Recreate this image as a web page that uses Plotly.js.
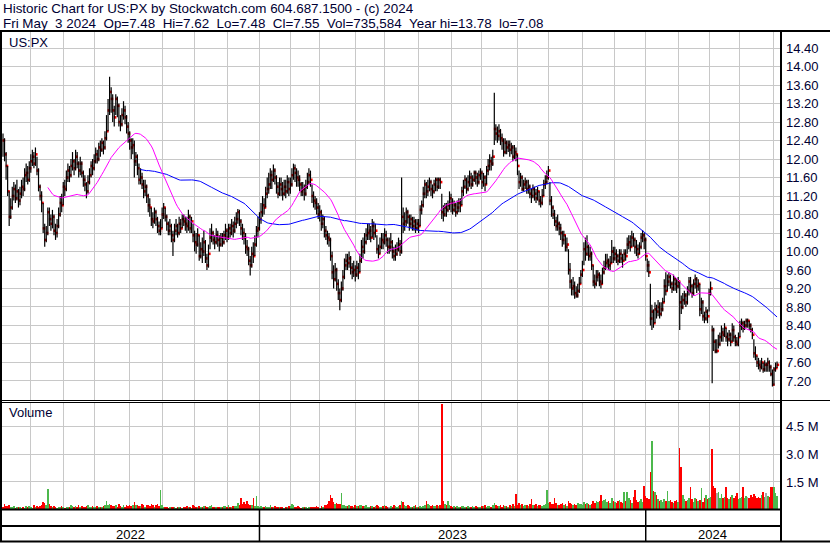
<!DOCTYPE html>
<html><head><meta charset="utf-8">
<script src="https://cdn.plot.ly/plotly-3.0.1.min.js"></script>
<style>html,body{margin:0;padding:0;background:#fff}#chart{width:830px;height:543px}</style>
</head><body><div id="chart"></div>
<script>
// ---- data ----
const yearLabels = ['2022','2023','2024'];
const yearBars = [166, 250, 86];               // trading days shown per year
const monthBars = [18,21,20,23,21,21,21,21, 20,19,23,19,22,21,20,23,20,22,21,20, 21,20,20,22,3];
const priceTicks = [7.2,7.6,8.0,8.4,8.8,9.2,9.6,10.0,10.4,10.8,11.2,11.6,12.0,12.4,12.8,13.2,13.6,14.0,14.4];
const volTicks = [1.5, 3.0, 4.5];
const volTickText = ['1.5 M', '3.0 M', '4.5 M'];

const cl = [
12.40,12.10,11.85,11.30,10.75,10.95,11.20,11.35,11.15,11.30,
11.10,11.25,11.40,11.35,11.65,11.70,11.55,11.80,11.95,12.05,
11.90,12.10,11.75,11.40,11.20,11.05,10.50,10.25,10.40,10.85,
10.70,10.60,10.75,10.45,10.40,10.55,10.80,11.05,11.00,11.40,
11.35,11.60,11.75,11.65,11.85,11.95,11.80,12.05,11.90,11.75,
11.90,11.70,11.55,11.45,11.30,11.50,11.65,11.85,11.80,11.95,
12.10,12.00,12.25,12.20,12.35,12.25,12.45,12.60,13.05,13.45,
13.30,13.05,12.90,13.30,13.15,12.80,12.75,12.95,13.05,12.90,
12.70,12.55,12.40,12.25,12.30,11.95,12.05,11.80,11.55,11.60,
11.45,11.30,11.40,11.20,11.00,10.95,10.70,10.65,10.85,10.70,
10.55,10.45,10.50,10.80,10.95,10.75,10.60,10.45,10.55,10.35,
10.25,10.45,10.55,10.40,10.60,10.50,10.70,10.65,10.60,10.55,
10.75,10.50,10.65,10.35,10.20,10.15,10.35,9.90,10.05,10.00,
10.20,9.85,9.70,9.95,10.30,10.40,10.25,10.20,10.35,10.25,
10.15,10.30,10.20,10.35,10.45,10.30,10.50,10.40,10.55,10.45,
10.60,10.70,10.85,10.65,10.50,10.40,10.30,10.10,10.05,9.80,
9.70,9.95,9.90,10.15,10.45,10.50,10.70,10.85,11.00,10.95,
11.25,11.35,11.45,11.65,11.55,11.75,11.60,11.40,11.25,11.45,
11.35,11.25,11.40,11.30,11.50,11.35,11.45,11.65,11.80,11.70,
11.60,11.55,11.45,11.30,11.35,11.25,11.40,11.50,11.65,11.55,
11.20,11.10,11.05,10.95,10.80,10.85,10.60,10.70,10.45,10.35,
10.30,10.25,9.90,9.55,9.40,9.60,9.30,9.10,8.95,9.20,
9.45,9.70,9.80,9.75,9.85,9.65,9.55,9.60,9.50,9.65,
9.55,9.80,10.10,10.00,10.20,10.35,10.40,10.45,10.30,10.55,
10.40,10.45,10.05,9.95,10.10,10.25,10.20,10.35,10.25,10.10,
10.10,10.20,10.00,9.90,9.95,10.05,10.15,10.00,10.75,10.60,
10.65,10.85,10.75,10.60,10.70,10.55,10.65,10.50,10.60,10.55,
10.90,11.00,11.25,11.45,11.30,11.40,11.50,11.35,11.30,11.45,
11.55,11.40,11.55,11.50,10.85,10.80,10.95,10.90,11.00,11.15,
11.05,10.90,11.00,10.85,10.95,11.05,11.00,11.30,11.40,11.55,
11.35,11.50,11.60,11.45,11.55,11.70,11.60,11.50,11.65,11.70,
11.50,11.60,11.45,11.75,11.85,11.95,11.90,12.05,12.65,12.55,
12.50,12.60,12.45,12.40,12.15,12.35,12.25,12.30,12.20,12.25,
12.05,12.15,12.10,11.85,11.50,11.60,11.35,11.45,11.50,11.35,
11.40,11.25,11.20,11.35,11.25,11.15,11.30,11.10,11.05,11.20,
11.45,11.50,11.60,11.75,11.10,10.95,10.80,10.65,10.55,10.60,
10.50,10.40,10.25,10.35,10.10,10.15,9.60,9.35,9.20,9.25,
9.10,9.05,9.15,9.30,9.50,9.60,10.05,9.95,10.10,9.90,
9.95,9.70,9.35,9.30,9.45,9.50,9.35,9.30,9.55,9.65,
9.75,9.80,9.70,9.75,10.00,9.85,9.95,9.90,9.80,9.95,
9.85,9.80,9.95,9.90,10.15,10.20,10.10,10.30,10.25,10.10,
10.05,9.95,10.10,10.30,10.35,10.25,9.90,9.70,9.55,8.55,
8.70,8.45,8.75,8.70,8.80,8.65,8.75,8.90,9.25,9.15,
9.35,9.45,9.30,9.20,9.40,9.30,9.25,9.35,8.90,8.80,
8.95,9.05,8.90,9.15,9.35,9.25,9.10,9.30,9.40,9.25,
9.30,8.75,8.90,8.60,8.55,8.70,8.60,9.10,9.20,8.30,
8.05,7.85,7.85,8.00,8.15,8.25,8.20,8.35,8.15,8.10,
8.20,8.05,8.30,8.15,8.05,8.00,8.15,8.40,8.45,8.35,
8.40,8.50,8.50,8.40,8.30,8.20,7.80,7.75,7.60,7.55,
7.50,7.60,7.45,7.55,7.55,7.60,7.50,7.35,7.12,7.45,
7.48,7.55];

const hi = [
12.55,12.45,12.15,11.85,11.30,11.15,11.40,11.50,11.45,11.55,
11.35,11.40,11.55,11.60,11.80,11.90,11.85,11.95,12.10,12.20,
12.15,12.25,12.05,11.80,11.45,11.30,11.05,10.60,10.55,10.95,
10.95,10.80,10.90,10.80,10.60,10.70,10.95,11.20,11.25,11.50,
11.55,11.75,11.90,11.85,12.00,12.15,12.00,12.20,12.15,11.95,
12.05,11.95,11.75,11.65,11.50,11.65,11.80,11.95,12.00,12.10,
12.25,12.20,12.35,12.40,12.45,12.40,12.60,12.95,13.30,13.78,
13.55,13.40,13.15,13.40,13.35,13.20,12.95,13.10,13.25,13.15,
12.95,12.80,12.60,12.45,12.45,12.40,12.15,12.10,11.90,11.80,
11.70,11.55,11.55,11.45,11.25,11.15,10.95,10.85,10.95,10.90,
10.75,10.65,10.70,10.95,11.05,10.95,10.80,10.65,10.70,10.60,
10.45,10.60,10.70,10.60,10.75,10.70,10.80,10.80,10.75,10.75,
10.90,10.80,10.75,10.60,10.45,10.40,10.50,10.35,10.20,10.30,
10.45,10.25,9.95,10.15,10.50,10.60,10.45,10.35,10.50,10.45,
10.35,10.40,10.40,10.45,10.60,10.50,10.60,10.60,10.70,10.65,
10.75,10.85,10.92,10.90,10.70,10.60,10.50,10.40,10.25,10.10,
9.90,10.10,10.20,10.35,10.55,10.75,10.85,11.05,11.20,11.15,
11.40,11.60,11.70,11.80,11.75,11.88,11.80,11.65,11.50,11.60,
11.60,11.50,11.55,11.55,11.65,11.60,11.60,11.80,11.90,11.88,
11.80,11.75,11.65,11.50,11.50,11.45,11.55,11.70,11.80,11.75,
11.45,11.30,11.20,11.15,11.05,11.00,10.90,10.80,10.75,10.55,
10.45,10.40,10.30,10.00,9.70,9.75,9.65,9.40,9.20,9.35,
9.60,9.85,9.95,9.95,10.00,9.90,9.75,9.80,9.70,9.80,
9.75,9.95,10.25,10.30,10.40,10.50,10.60,10.60,10.55,10.70,
10.65,10.60,10.35,10.15,10.30,10.40,10.40,10.50,10.45,10.30,
10.30,10.40,10.25,10.10,10.15,10.20,10.30,10.25,11.60,10.95,
10.85,10.95,10.90,10.80,10.80,10.75,10.75,10.70,10.70,10.70,
11.00,11.10,11.40,11.55,11.50,11.55,11.60,11.55,11.45,11.55,
11.60,11.60,11.60,11.60,11.25,11.00,11.05,11.05,11.10,11.30,
11.25,11.15,11.10,11.05,11.10,11.15,11.15,11.40,11.55,11.65,
11.60,11.65,11.75,11.70,11.65,11.75,11.75,11.70,11.75,11.80,
11.75,11.70,11.65,11.85,12.00,12.10,12.05,12.20,13.43,12.75,
12.70,12.75,12.65,12.55,12.45,12.45,12.40,12.40,12.40,12.35,
12.30,12.30,12.25,12.10,11.75,11.70,11.65,11.55,11.60,11.55,
11.55,11.45,11.35,11.45,11.40,11.35,11.40,11.30,11.20,11.35,
11.55,11.65,11.75,11.85,11.50,11.20,11.00,10.90,10.75,10.80,
10.65,10.60,10.45,10.45,10.35,10.30,10.05,9.75,9.40,9.45,
9.35,9.25,9.30,9.45,9.60,9.80,10.20,10.30,10.35,10.15,
10.10,10.00,9.70,9.50,9.60,9.60,9.55,9.50,9.65,9.80,
9.95,9.95,9.85,9.90,10.25,10.10,10.10,10.05,9.95,10.05,
10.05,9.95,10.05,10.05,10.30,10.35,10.35,10.45,10.40,10.30,
10.25,10.15,10.20,10.40,10.46,10.40,10.30,9.85,9.80,9.30,
8.85,8.75,8.90,8.85,8.95,8.90,8.90,9.00,9.40,9.55,
9.50,9.55,9.50,9.35,9.50,9.45,9.40,9.45,9.35,9.05,
9.10,9.15,9.10,9.25,9.45,9.45,9.30,9.40,9.50,9.45,
9.40,9.30,9.00,8.95,8.70,8.80,8.75,9.20,9.35,8.40,
8.35,8.10,8.10,8.20,8.25,8.40,8.35,8.45,8.35,8.25,
8.30,8.25,8.45,8.40,8.20,8.15,8.25,8.50,8.55,8.50,
8.50,8.55,8.55,8.50,8.45,8.35,8.10,7.95,7.75,7.70,
7.65,7.70,7.60,7.65,7.60,7.70,7.65,7.55,7.45,7.50,
7.60,7.62];

const lo = [
12.05,11.95,11.55,11.20,10.55,10.70,10.90,11.10,11.05,11.10,
10.95,11.00,11.15,11.20,11.30,11.50,11.45,11.50,11.70,11.85,
11.80,11.85,11.65,11.30,11.10,10.85,10.40,10.10,10.20,10.35,
10.55,10.45,10.50,10.35,10.25,10.30,10.50,10.75,10.85,11.00,
11.20,11.30,11.50,11.50,11.60,11.75,11.65,11.75,11.80,11.60,
11.65,11.60,11.40,11.30,11.15,11.25,11.45,11.60,11.65,11.75,
11.90,11.90,11.95,12.05,12.15,12.10,12.20,12.40,12.60,12.95,
13.00,12.80,12.70,12.95,12.90,12.70,12.60,12.70,12.85,12.75,
12.55,12.35,12.20,12.00,12.10,11.60,11.85,11.65,11.45,11.45,
11.35,11.15,11.20,11.05,10.85,10.75,10.55,10.50,10.60,10.55,
10.40,10.35,10.35,10.50,10.70,10.65,10.45,10.35,10.35,10.20,
9.90,10.20,10.35,10.30,10.35,10.40,10.50,10.55,10.45,10.40,
10.45,10.40,10.40,10.20,10.00,9.95,10.10,9.80,9.85,9.75,
9.90,9.75,9.60,9.65,10.05,10.20,10.15,10.05,10.15,10.10,
10.00,10.10,10.10,10.15,10.25,10.20,10.25,10.30,10.35,10.30,
10.40,10.50,10.60,10.55,10.35,10.25,10.15,9.95,9.90,9.70,
9.48,9.65,9.75,9.90,10.10,10.30,10.45,10.60,10.75,10.80,
10.95,11.15,11.25,11.35,11.35,11.50,11.45,11.25,11.15,11.20,
11.20,11.10,11.20,11.15,11.25,11.20,11.25,11.40,11.55,11.50,
11.40,11.40,11.30,11.20,11.20,11.10,11.20,11.35,11.45,11.40,
11.05,10.95,10.90,10.80,10.70,10.65,10.45,10.50,10.30,10.25,
10.15,10.10,9.80,9.40,9.20,9.35,9.15,8.95,8.73,8.90,
9.15,9.40,9.60,9.60,9.65,9.50,9.40,9.45,9.35,9.45,
9.40,9.55,9.75,9.85,9.95,10.15,10.25,10.25,10.20,10.30,
10.25,10.30,9.95,9.85,9.95,10.05,10.05,10.15,10.10,9.95,
9.95,10.00,9.85,9.80,9.80,9.90,10.00,9.90,9.95,10.40,
10.45,10.55,10.60,10.45,10.50,10.45,10.45,10.40,10.45,10.40,
10.55,10.80,10.95,11.15,11.15,11.20,11.30,11.20,11.15,11.25,
11.30,11.30,11.35,11.35,10.70,10.65,10.75,10.75,10.85,10.90,
10.85,10.80,10.85,10.75,10.80,10.85,10.85,11.00,11.20,11.35,
11.25,11.30,11.40,11.35,11.40,11.50,11.45,11.40,11.45,11.55,
11.35,11.40,11.30,11.45,11.65,11.75,11.75,11.85,12.30,12.40,
12.35,12.40,12.30,12.20,12.05,12.10,12.10,12.15,12.05,12.10,
11.95,12.00,11.95,11.65,11.35,11.40,11.30,11.30,11.35,11.25,
11.25,11.15,11.05,11.15,11.10,11.05,11.10,11.00,10.95,11.00,
11.20,11.35,11.45,11.55,11.00,10.75,10.70,10.55,10.45,10.45,
10.35,10.25,10.10,10.15,10.00,10.00,9.50,9.20,9.05,9.05,
8.98,9.00,9.00,9.10,9.30,9.45,9.70,9.80,9.90,9.80,
9.80,9.60,9.25,9.20,9.25,9.35,9.25,9.20,9.30,9.50,
9.60,9.65,9.60,9.60,9.75,9.75,9.80,9.75,9.70,9.75,
9.75,9.65,9.80,9.80,9.95,10.05,10.00,10.10,10.10,9.95,
9.90,9.85,9.95,10.05,10.20,10.05,9.80,9.55,9.45,8.40,
8.30,8.35,8.45,8.55,8.60,8.55,8.60,8.70,8.90,9.05,
9.15,9.25,9.20,9.10,9.15,9.15,9.10,9.20,8.30,8.65,
8.75,8.85,8.80,8.85,9.05,9.10,9.00,9.05,9.20,9.10,
9.15,8.60,8.65,8.50,8.45,8.50,8.45,8.70,9.05,7.15,
7.85,7.80,7.80,7.90,7.95,8.05,8.05,8.15,8.05,7.95,
8.05,7.95,8.05,8.05,7.95,7.95,7.95,8.15,8.30,8.25,
8.30,8.35,8.35,8.30,8.25,8.10,7.70,7.65,7.50,7.45,
7.40,7.45,7.38,7.40,7.40,7.40,7.40,7.30,7.08,7.10,
7.40,7.48];

// volume in millions of shares
const vol = [
0.15,0.30,0.20,0.18,0.22,0.15,0.12,0.18,0.10,0.14,
0.16,0.12,0.10,0.14,0.08,0.20,0.12,0.18,0.15,0.10,
0.22,0.13,0.17,0.15,0.20,0.25,0.40,0.34,0.25,1.09,
0.30,0.18,0.14,0.20,0.12,0.10,0.15,0.12,0.18,0.14,
0.10,0.16,0.13,0.12,0.22,0.18,0.15,0.20,0.12,0.25,
0.14,0.18,0.16,0.12,0.20,0.25,0.15,0.12,0.18,0.14,
0.16,0.20,0.13,0.15,0.12,0.18,0.22,0.49,0.25,0.30,
0.22,0.20,0.18,0.24,0.15,0.28,0.20,0.16,0.25,0.15,
0.22,0.18,0.26,0.20,0.24,0.40,0.22,0.25,0.20,0.18,
0.30,0.22,0.16,0.24,0.25,0.20,0.28,0.22,0.15,0.25,
0.30,0.18,1.04,0.22,0.15,0.12,0.14,0.10,0.16,0.12,
0.15,0.12,0.10,0.14,0.12,0.16,0.10,0.13,0.15,0.18,
0.14,0.16,0.10,0.22,0.18,0.14,0.12,0.20,0.16,0.14,
0.18,0.20,0.15,0.12,0.18,0.22,0.16,0.14,0.15,0.12,
0.16,0.12,0.14,0.18,0.20,0.15,0.22,0.16,0.14,0.18,
0.20,0.18,0.35,0.24,0.62,0.30,0.40,0.28,0.45,0.30,
0.25,0.22,0.62,0.20,0.71,0.18,0.15,0.20,0.16,0.14,
0.18,0.15,0.12,0.22,0.14,0.16,0.20,0.15,0.12,0.16,
0.14,0.12,0.10,0.15,0.13,0.18,0.20,0.30,0.22,0.16,
0.14,0.18,0.12,0.10,0.14,0.16,0.12,0.10,0.15,0.12,
0.14,0.16,0.12,0.18,0.15,0.10,0.20,0.14,0.22,0.25,
0.30,0.45,0.77,0.60,0.40,0.28,0.35,0.30,0.32,0.89,
0.25,0.22,0.18,0.20,0.26,0.18,0.20,0.15,0.22,0.18,
0.20,0.25,0.22,0.18,0.20,0.24,0.16,0.14,0.20,0.18,
0.15,0.20,0.22,0.18,0.16,0.14,0.18,0.22,0.20,0.16,
0.14,0.20,0.16,0.22,0.18,0.14,0.20,0.25,0.49,0.40,
0.22,0.18,0.25,0.20,0.15,0.12,0.18,0.22,0.15,0.12,
0.18,0.16,0.20,0.25,0.44,0.30,0.22,0.20,0.25,0.18,
0.20,0.24,0.18,0.25,5.74,0.49,0.30,0.25,0.44,0.22,
0.20,0.16,0.18,0.14,0.20,0.15,0.12,0.18,0.20,0.16,
0.14,0.18,0.12,0.16,0.20,0.15,0.18,0.14,0.12,0.16,
0.20,0.18,0.22,0.16,0.20,0.18,0.14,0.22,0.35,0.25,
0.20,0.18,0.22,0.16,0.25,0.20,0.18,0.15,0.22,0.20,
0.28,0.18,0.86,0.25,0.35,0.22,0.30,0.18,0.22,0.25,
0.20,0.28,0.55,0.22,0.25,0.30,0.18,0.25,0.22,0.20,
0.25,0.30,1.04,0.35,0.40,0.30,0.28,0.64,0.35,0.22,
0.25,0.30,0.35,0.22,0.28,0.20,0.45,0.35,0.30,0.25,
0.30,0.25,0.35,0.28,0.32,0.26,0.40,0.30,0.35,0.28,
0.25,0.30,0.45,0.35,0.49,0.40,0.45,0.77,0.45,0.50,
0.55,0.40,0.45,0.35,0.60,0.45,0.40,0.35,0.45,0.50,
0.40,0.35,0.98,0.45,0.95,0.60,0.50,0.35,0.67,1.04,
0.50,0.40,0.45,0.58,0.40,1.26,0.75,0.60,0.55,2.04,
3.72,1.00,0.98,0.80,0.55,0.45,0.50,0.40,0.55,0.48,
1.00,0.45,0.50,0.40,0.35,0.45,0.50,0.40,3.35,2.30,
0.80,0.55,0.45,0.50,0.60,1.20,0.55,0.40,0.60,0.55,
0.45,0.50,1.17,0.40,0.60,0.79,0.55,0.60,0.70,3.28,
1.30,1.17,0.90,0.95,0.60,0.85,0.60,0.70,1.20,0.65,
0.55,0.70,0.80,0.60,0.75,0.90,0.55,0.65,0.70,1.20,
0.60,0.75,0.70,0.65,0.80,0.70,0.85,0.75,0.60,0.70,
0.65,0.80,0.95,0.70,0.90,0.75,0.70,1.20,1.25,1.25,
0.90,0.74];

const maShort = 30, maLong = 90;

// ---- geometry helpers ----
const W = 830, H = 543;
const PX = v => v / W, PY = v => 1 - v / H;
const barPx = 1.545, firstBarPx = 3, plotL = 2, plotR = 780;
const xRange = [(plotL - firstBarPx) / barPx, (plotR - firstBarPx) / barPx];

const N = cl.length;
const idx = cl.map((_, i) => i);

function cum(arr) { const out = [0]; arr.forEach(v => out.push(out[out.length - 1] + v)); return out; }
const monthStarts = cum(monthBars).slice(1, -1);
const yearStarts = cum(yearBars);

function sma(a, n) {
  return a.map((_, i) => {
    if (i < n - 1) return null;
    let s = 0; for (let k = i - n + 1; k <= i; k++) s += a[k];
    return s / n;
  });
}

// hi-lo segments
const segX = [], segY = [];
idx.forEach(i => { segX.push(i, i, null); segY.push(lo[i], hi[i], null); });

const volColors = vol.map((_, i) => {
  if (i === 0) return '#ff0000';
  if (cl[i] > cl[i - 1]) return '#4cb84c';
  if (cl[i] < cl[i - 1]) return '#ff0000';
  return '#a8a8a8';
});

const FONT = 'Liberation Sans, Arial, sans-serif';
const TXT = '#000033';

const traces = [
  { type: 'scatter', mode: 'markers', x: idx.map(i => i + 0.55), y: cl, xaxis: 'x', yaxis: 'y',
    marker: { symbol: 'square', size: 2.6, color: '#ff0000', line: { width: 0 } }, hoverinfo: 'skip' },
  { type: 'scatter', mode: 'lines', x: segX, y: segY, xaxis: 'x', yaxis: 'y',
    line: { color: '#000000', width: 1.2 }, hoverinfo: 'skip' },
  { type: 'scatter', mode: 'lines', x: idx, y: sma(cl, maLong), xaxis: 'x', yaxis: 'y',
    line: { color: '#0000ff', width: 1 }, hoverinfo: 'skip' },
  { type: 'scatter', mode: 'lines', x: idx, y: sma(cl, maShort), xaxis: 'x', yaxis: 'y',
    line: { color: '#ff00ff', width: 1 }, hoverinfo: 'skip' },
  { type: 'bar', x: idx, y: vol, xaxis: 'x2', yaxis: 'y2', width: 1,
    marker: { color: volColors, line: { width: 0 } }, hoverinfo: 'skip' }
];

const gridC = '#c8c8c8';
const xCommon = {
  range: xRange, domain: [PX(plotL), PX(plotR)], tickmode: 'array', tickvals: monthStarts,
  showticklabels: false, ticks: '', showgrid: true, gridcolor: gridC, gridwidth: 1,
  zeroline: false, showline: false, fixedrange: true
};

const shapes = [];
function hline(y, x0, x1, w) { shapes.push({ type: 'line', xref: 'paper', yref: 'paper', x0: PX(x0), x1: PX(x1), y0: PY(y), y1: PY(y), line: { color: '#000', width: w }, layer: 'above' }); }
function vline(x, y0, y1, w) { shapes.push({ type: 'line', xref: 'paper', yref: 'paper', x0: PX(x), x1: PX(x), y0: PY(y0), y1: PY(y1), line: { color: '#000', width: w }, layer: 'above' }); }
hline(31, 0, 830, 2);
vline(1, 31, 542, 2);
vline(781, 31, 542, 2);
hline(400.5, 0, 830, 1);
hline(402.5, 0, 781, 1);
hline(509.5, 0, 781, 2);
hline(526, 0, 781, 2);
hline(541.5, 0, 830, 2);
yearStarts.slice(1, -1).forEach(b => shapes.push({ type: 'line', xref: 'x', yref: 'paper', x0: b, x1: b,
  y0: PY(509.5), y1: PY(541.5), line: { color: '#000', width: 1.5 }, layer: 'above' }));

const annotations = [
  { text: 'Historic Chart for US:PX by Stockwatch.com 604.687.1500 - (c) 2024', x: PX(1), y: PY(8.5) },
  { text: 'Fri May\u00a0\u00a03 2024\u00a0\u00a0Op=7.48\u00a0\u00a0Hi=7.62\u00a0\u00a0Lo=7.48\u00a0\u00a0Cl=7.55\u00a0\u00a0Vol=735,584\u00a0\u00a0Year hi=13.78\u00a0\u00a0lo=7.08', x: PX(1), y: PY(23) },
  { text: 'US:PX', x: PX(7), y: PY(42) },
  { text: 'Volume', x: PX(7), y: PY(413) }
].map((a, k) => Object.assign({ xref: 'paper', yref: 'paper', xanchor: 'left', yanchor: 'middle', showarrow: false,
  font: { family: FONT, size: k < 2 ? 13.4 : 13, color: TXT } }, a));

yearLabels.forEach((t, k) => {
  const s = k === 0 ? xRange[0] : yearStarts[k];
  const e = k === yearLabels.length - 1 ? xRange[1] : yearStarts[k + 1];
  annotations.push({ text: t, xref: 'x', yref: 'paper', x: (s + e) / 2, y: PY(534), xanchor: 'center', yanchor: 'middle',
    showarrow: false, font: { family: FONT, size: 13, color: '#000' } });
});

const layout = {
  width: W, height: H, margin: { l: 0, r: 0, t: 0, b: 0 }, paper_bgcolor: '#fff', plot_bgcolor: '#fff',
  showlegend: false, hovermode: false, bargap: 0,
  font: { family: FONT, size: 13, color: TXT },
  xaxis: Object.assign({}, xCommon, { anchor: 'y' }),
  xaxis2: Object.assign({}, xCommon, { anchor: 'y2', matches: 'x' }),
  yaxis: { domain: [PY(400), PY(32)], range: [6.789, 14.746], side: 'right', anchor: 'x',
    tickmode: 'array', tickvals: priceTicks, tickformat: '.2f', ticks: '', ticklabelstandoff: 5,
    showgrid: true, gridcolor: gridC, gridwidth: 1, zeroline: false, showline: false, fixedrange: true,
    tickfont: { family: FONT, size: 13, color: TXT } },
  yaxis2: { domain: [PY(509.5), PY(403)], range: [0, 5.8], side: 'right', anchor: 'x2',
    tickmode: 'array', tickvals: volTicks, ticktext: volTickText, ticks: '', ticklabelstandoff: 5,
    showgrid: true, gridcolor: gridC, gridwidth: 1, zeroline: false, showline: false, fixedrange: true,
    tickfont: { family: FONT, size: 13, color: TXT } },
  shapes: shapes, annotations: annotations
};

Plotly.newPlot('chart', traces, layout, { displayModeBar: false, staticPlot: true });
</script>
</body></html>
